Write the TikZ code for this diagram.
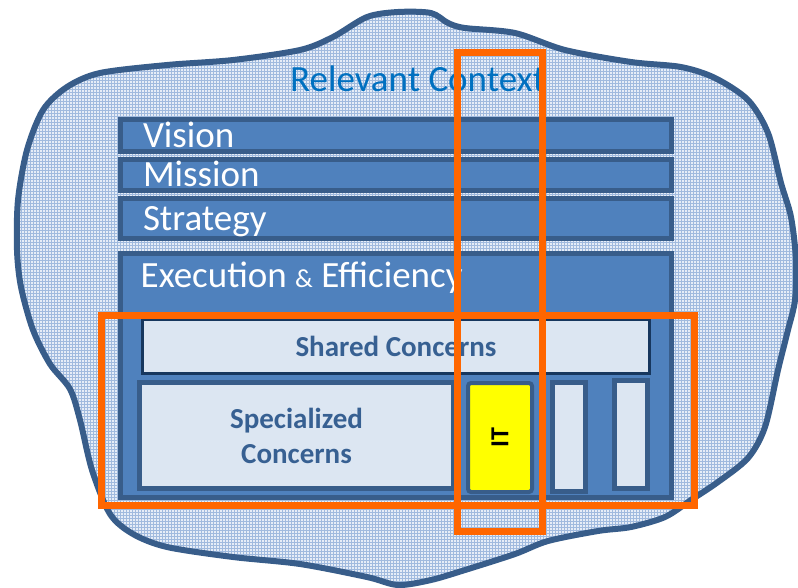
\documentclass[tikz,border=0pt]{standalone}
\usepackage{fontspec}
\setmainfont{Carlito}
\usepackage{tikz}
\usetikzlibrary{
  patterns
}
\definecolor{contextline}{RGB}{56, 93, 138}
\definecolor{contextfill}{RGB}{230, 237, 247}
\definecolor{contextgrid}{RGB}{160, 186, 222}
\definecolor{contexttext}{RGB}{0, 112, 192}
\definecolor{bandcolor}{RGB}{79, 129, 189}
\definecolor{bandborder}{RGB}{56, 93, 138}
\definecolor{concernfill}{RGB}{220, 230, 242}
\definecolor{concerntext}{RGB}{55, 96, 146}
\definecolor{sharedborder}{RGB}{23, 55, 94}
\definecolor{focuscolor}{RGB}{255, 102, 0}
\definecolor{itcolor}{RGB}{255, 255, 0}
\tikzset{
bandtext/.style={
  text=white,
  font=\fontsize{37}{42}\selectfont
},
bandblock/.style={
  draw=bandborder,
  line width=5pt,
  fill=bandcolor,
  text width=506pt,
  align=left,
  inner xsep=22.5pt,
  inner ysep=0pt,
  text height=23pt,
  text depth=0pt,
  bandtext
},
concernblock/.style={
  draw=bandborder,
  line width=5pt,
  fill=concernfill,
  inner sep=0pt,
  align=center,
  text=concerntext,
  font=\bfseries\fontsize{29}{35}\selectfont
},
itblock/.style={
  draw=bandborder,
  line width=4pt,
  fill=itcolor,
  rounded corners=3pt,
  inner sep=0pt,
  font=\bfseries\fontsize{26}{30}\selectfont
},
focusbox/.style={
  draw=focuscolor,
  line width=7pt,
  inner sep=0pt
}
}

\begin{document}
\begin{tikzpicture}[x=1pt,y=-1pt]
  \useasboundingbox (0,0) rectangle (798,587);
  % relevant context cloud
  \path[preaction={fill=contextfill}, pattern=grid, pattern color=contextgrid,
        draw=contextline, line width=6pt]
    plot[smooth cycle, tension=0.5] coordinates {
      (398,12) (431,13) (448,23) (465,28) (515,33) (565,50) (631,62) (681,67)
      (715,78) (748,100) (768,133) (781,183) (791,217) (796,260) (795,300)
      (788,330) (778,370) (765,427) (748,458) (718,482) (691,500) (665,517)
      (631,527) (598,531) (548,541) (515,554) (465,570) (431,580) (398,585)
      (367,577) (300,564) (233,557) (167,547) (133,534) (110,514) (92,470)
      (80,420) (70,389) (50,364) (33,330) (21,287) (17,250) (18,200) (27,150)
      (43,110) (67,87) (100,73) (167,65) (233,60) (300,50) (333,37) (367,17)
    };
  \node[anchor=base west, inner sep=0pt, text=contexttext,
        font=\fontsize{37}{42}\selectfont] (context) at (290,91) {Relevant Context};

  % bands
  \node[bandblock, minimum height=32pt] (vision) at (396,135.5) {Vision};
  \node[bandblock, minimum height=31pt] (mission) at (396,175) {Mission};
  \node[bandblock, minimum height=40pt] (strategy) at (396,218.5) {Strategy};
  \node[bandblock, minimum height=244pt] (exec) at (396,375.5) {};
  \node[anchor=base west, inner sep=0pt, bandtext] (execlabel)
    at ([xshift=22.5pt,yshift=-36.5pt]exec.north west)
    {Execution {\fontsize{26}{30}\selectfont\&} Efficiency};

  % concerns
  \node[concernblock, draw=sharedborder, line width=3pt,
        minimum width=507pt, minimum height=54pt] (shared) at (396,346.5) {Shared Concerns};
  \node[concernblock, minimum width=314pt, minimum height=106pt] (special)
    at (296.5,435.5) {Specialized\\Concerns};
  \node[itblock, rotate=90, minimum width=109pt, minimum height=64pt] (it)
    at (500,437.5) {IT};
  \node[concernblock, minimum width=33pt, minimum height=109pt] (othera) at (569,437) {};
  \node[concernblock, minimum width=33pt, minimum height=108pt] (otherb) at (631,434.5) {};

  % focus frames
  \node[focusbox, minimum width=593pt, minimum height=190pt] (crosscut) at (397.5,410) {};
  \node[focusbox, minimum width=85pt, minimum height=479pt] (itcut) at (499.5,291.5) {};
\end{tikzpicture}
\end{document}
